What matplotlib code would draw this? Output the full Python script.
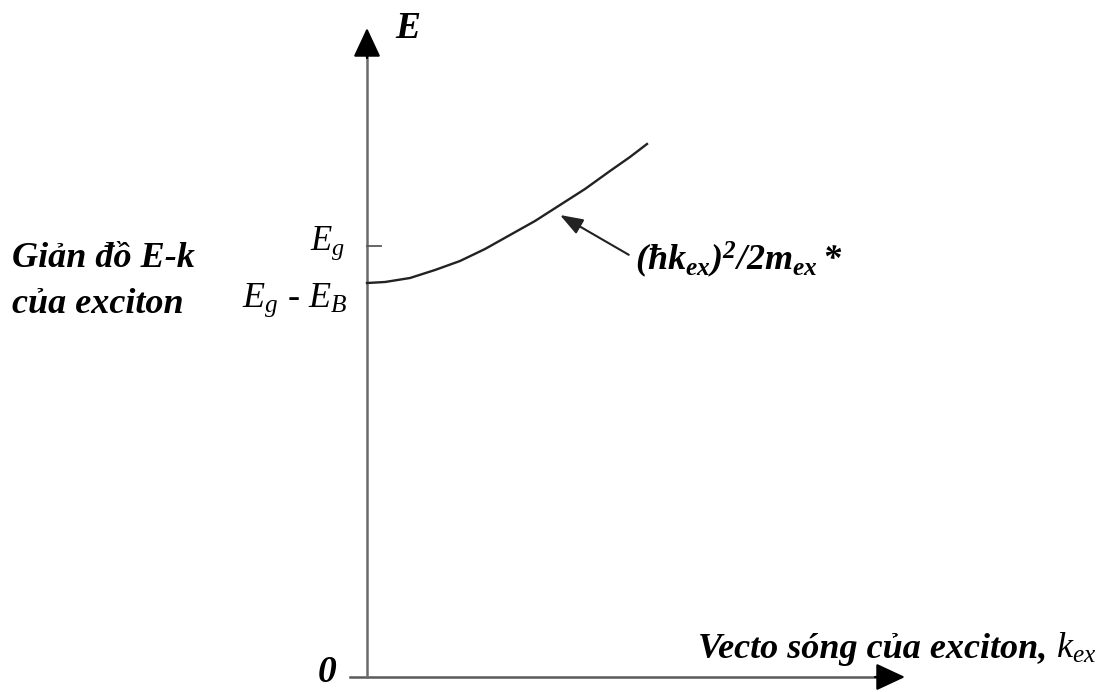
import numpy as np
import matplotlib
matplotlib.use("Agg")
import matplotlib.pyplot as plt

plt.rcParams['font.family'] = ['Liberation Serif', 'DejaVu Serif']
plt.rcParams['mathtext.fontset'] = 'custom'
plt.rcParams['mathtext.rm'] = 'Liberation Serif'
plt.rcParams['mathtext.it'] = 'Liberation Serif:italic'
plt.rcParams['mathtext.bf'] = 'Liberation Serif:bold:italic'

# dispersion curve of the exciton, E(k)
k_ex = [0.00, 0.18, 0.43, 0.68, 0.93, 1.18, 1.43, 1.68, 1.93, 2.18, 2.43, 2.63, 2.80]
E_ex = [3.94, 3.95, 3.99, 4.07, 4.16, 4.28, 4.42, 4.56, 4.72, 4.88, 5.06, 5.20, 5.33]

E_g = 4.31        # band gap level
E_gB = 3.94       # E_g - E_B level
k_max = 5.38      # end of the k axis
E_max = 6.49      # end of the E axis

fig = plt.figure(figsize=(11.09, 6.92), dpi=100)
ax = fig.add_axes([0, 0, 1, 1])
ax.set_xlim(-3.67, 7.42)
ax.set_ylim(-0.15, 6.77)
ax.axis('off')

axis_col = '#5a5a5a'
head = '-|>,head_length=0.9,head_width=0.42'

# axis lines (grey) and black arrow heads
ax.plot([-0.17, k_max - 0.2], [0, 0], color=axis_col, lw=1.8)
ax.plot([0, 0], [0, E_max - 0.2], color='#6a6a6a', lw=1.8)
ax.annotate('', xy=(k_max, 0), xytext=(k_max - 0.3, 0),
            arrowprops=dict(arrowstyle=head, color='black', lw=1.6,
                            mutation_scale=20, shrinkA=0, shrinkB=0))
ax.annotate('', xy=(0, E_max), xytext=(0, E_max - 0.3),
            arrowprops=dict(arrowstyle=head, color='black', lw=1.6,
                            mutation_scale=20, shrinkA=0, shrinkB=0))
ax.plot([0, 0.14], [E_g, E_g], color=axis_col, lw=1.3)

# the curve
ax.plot(k_ex, E_ex, color='#222222', lw=1.7)

# labels
ax.text(0.28, 6.39, 'E', fontsize=27, fontstyle='italic', fontweight='bold')
ax.text(-0.22, 4.27, r'$E_g$', fontsize=25, ha='right')
ax.text(-0.20, 3.70, r'$E_g$ - $E_B$', fontsize=26, ha='right')
ax.text(-0.40, 0.04, '0', fontsize=27, fontstyle='italic', fontweight='bold',
        ha='center', va='center')

ax.text(-3.55, 4.10, 'Giản đồ E-k', fontsize=26, fontstyle='italic', fontweight='bold')
ax.text(-3.55, 3.64, 'của exciton', fontsize=26, fontstyle='italic', fontweight='bold')

ax.text(6.80, 0.19, 'Vecto sóng của exciton,', fontsize=26, fontstyle='italic',
        fontweight='bold', ha='right')
ax.text(6.89, 0.19, r'$k_{ex}$', fontsize=26)

ax.annotate(r'$\mathbf{(ħk_{ex})^{2}/2m_{ex}*}$', xy=(1.93, 4.62), xytext=(2.68, 4.07),
            fontsize=26, ha='left', va='baseline',
            arrowprops=dict(arrowstyle='-|>,head_length=0.7,head_width=0.25',
                            color='#222222', lw=1.5, mutation_scale=20,
                            shrinkA=0, shrinkB=0, relpos=(-0.03, 0.62)))

fig.savefig('out.png', dpi=100)
